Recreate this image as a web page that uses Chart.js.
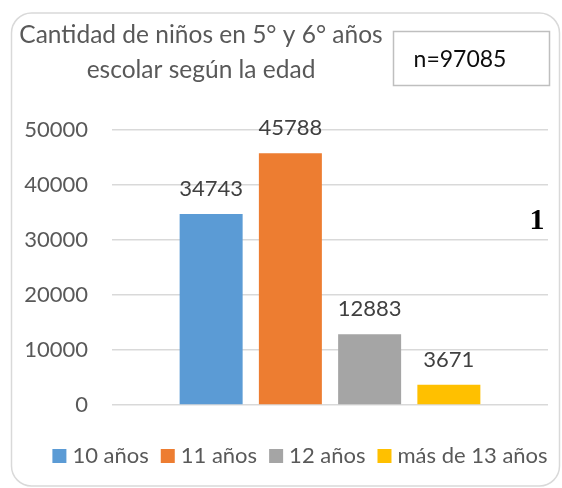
<!DOCTYPE html>
<html>
<head>
<meta charset="utf-8">
<script src="https://cdn.jsdelivr.net/npm/chart.js@4.4.0/dist/chart.umd.min.js"></script>
<style>
  html, body { margin: 0; padding: 0; background: #fff; }
  #wrap { width: 562px; height: 488px; }
</style>
</head>
<body>
<div id="wrap"><canvas id="chart" width="562" height="488"></canvas></div>
<script>
// data
const seriesNames = ['10 años', '11 años', '12 años', 'más de 13 años'];
const seriesValues = [34743, 45788, 12883, 3671];
const seriesColors = ['#5B9BD5', '#ED7D31', '#A5A5A5', '#FFC000'];
const yTicks = [0, 10000, 20000, 30000, 40000, 50000];
const titleLines = ['Cantidad de niños en 5° y 6° años', 'escolar según la edad'];
const sampleNote = 'n=97085';
const sideMark = '1';

const FONT = 'Lato, "Open Sans", sans-serif';

// frame, title, n box and the "1"
const decorations = {
  id: 'decorations',
  beforeDraw(chart) {
    const ctx = chart.ctx;
    ctx.save();
    ctx.fillStyle = '#fff';
    ctx.fillRect(0, 0, chart.width, chart.height);
    ctx.strokeStyle = '#d9d9d9';
    ctx.lineWidth = 1.5;
    ctx.beginPath();
    ctx.roundRect(11.5, 13, 548, 473, 20);
    ctx.stroke();
    ctx.restore();
  },
  afterDraw(chart) {
    const ctx = chart.ctx;
    ctx.save();
    ctx.fillStyle = '#595959';
    ctx.font = '24.5px ' + FONT;
    ctx.textAlign = 'center';
    ctx.textBaseline = 'middle';
    ctx.fillText(titleLines[0], 201, 35);
    ctx.fillText(titleLines[1], 201, 70);

    ctx.strokeStyle = '#bfbfbf';
    ctx.lineWidth = 1.5;
    ctx.strokeRect(393.5, 31.5, 156, 54);
    ctx.fillStyle = '#0d0d0d';
    ctx.font = '23px ' + FONT;
    ctx.fillText(sampleNote, 460, 60);

    ctx.fillStyle = '#000';
    ctx.font = 'bold 30px "Liberation Serif", "DejaVu Serif", serif';
    ctx.fillText(sideMark, 537, 221);
    ctx.restore();
  }
};

// value above each bar
const barLabels = {
  id: 'barLabels',
  afterDatasetsDraw(chart) {
    const ctx = chart.ctx;
    ctx.save();
    ctx.fillStyle = '#404040';
    ctx.font = '22px ' + FONT;
    ctx.textAlign = 'center';
    ctx.textBaseline = 'middle';
    chart.data.datasets.forEach((ds, i) => {
      const el = chart.getDatasetMeta(i).data[0];
      ctx.fillText(String(ds.data[0]), el.x, el.y - 25);
    });
    ctx.restore();
  }
};

// legend row under the plot
const bottomLegend = {
  id: 'bottomLegend',
  afterDraw(chart) {
    const ctx = chart.ctx;
    ctx.save();
    ctx.font = '22px ' + FONT;
    ctx.textBaseline = 'middle';
    const box = 14, gapIn = 6, gapOut = 12;
    const widths = chart.data.datasets.map(ds => box + gapIn + ctx.measureText(ds.label).width);
    const total = widths.reduce((a, b) => a + b, 0) + gapOut * (widths.length - 1);
    let x = 300 - total / 2;
    const y = 456;
    chart.data.datasets.forEach((ds, i) => {
      ctx.fillStyle = ds.backgroundColor;
      ctx.fillRect(x, y - box / 2, box, box);
      ctx.fillStyle = '#595959';
      ctx.fillText(ds.label, x + box + gapIn, y);
      x += widths[i] + gapOut;
    });
    ctx.restore();
  }
};

new Chart(document.getElementById('chart'), {
  type: 'bar',
  data: {
    labels: [''],
    datasets: seriesNames.map((name, i) => ({
      label: name,
      data: [seriesValues[i]],
      backgroundColor: seriesColors[i],
      categoryPercentage: 0.727,
      barPercentage: 0.795,
    })),
  },
  options: {
    responsive: false,
    animation: false,
    layout: { padding: { left: 12, right: 14, top: 130, bottom: 83 } },
    plugins: {
      legend: { display: false },
      title: { display: false },
      tooltip: { enabled: false },
    },
    scales: {
      x: { display: false },
      y: {
        min: 0,
        max: 50000,
        afterFit: (s) => { s.width = 100; },
        afterBuildTicks: (s) => { s.ticks = yTicks.map(v => ({ value: v })); },
        ticks: {
          padding: 24,
          color: '#595959',
          font: { family: FONT, size: 22 },
          callback: (v) => String(v),
        },
        grid: { color: '#d9d9d9', lineWidth: 1.5, drawTicks: false },
        border: { display: false },
      },
    },
  },
  plugins: [decorations, barLabels, bottomLegend],
});
</script>
</body>
</html>
